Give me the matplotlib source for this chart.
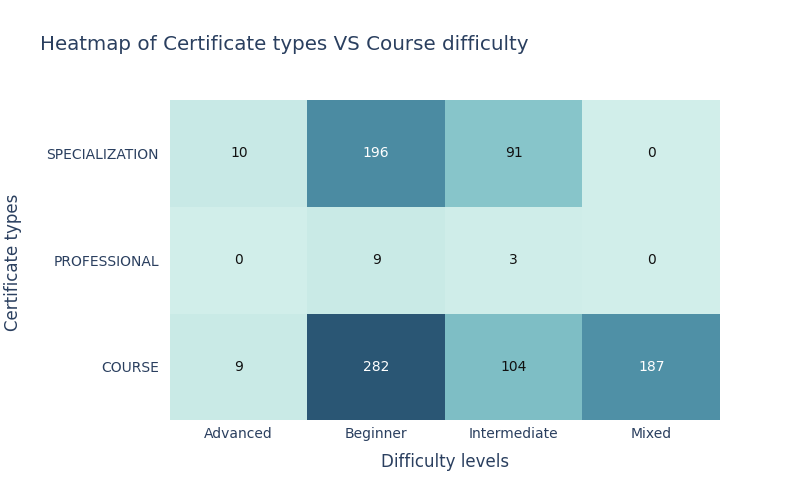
import numpy as np
import matplotlib.pyplot as plt
from matplotlib.colors import LinearSegmentedColormap

# Données du graphique
niveaux = ['Advanced', 'Beginner', 'Intermediate', 'Mixed']
certificats = ['COURSE', 'PROFESSIONAL', 'SPECIALIZATION']
course = [9, 282, 104, 187]
professional = [0, 9, 3, 0]
specialization = [10, 196, 91, 0]

# Echelle "Teal" de plotly
teal = ['#d1eeea', '#a8dbd9', '#85c4c9', '#68abb8', '#4f90a6', '#3b738f', '#2a5674']
cmap = LinearSegmentedColormap.from_list('teal', teal)

z = np.array([course, professional, specialization])
txt_color = '#2a3f5f'

fig = plt.figure(figsize=(8, 5), dpi=100)
ax = fig.add_axes([170 / 800, 1 - 420 / 500, 550 / 800, 320 / 500])
ax.imshow(z, cmap=cmap, aspect='auto', origin='lower', vmin=z.min(), vmax=z.max())

# Valeurs dans les cellules (blanc sur fond sombre)
for i in range(z.shape[0]):
    for j in range(z.shape[1]):
        r, g, b, _ = cmap((z[i, j] - z.min()) / (z.max() - z.min()))
        lum = 0.299 * r + 0.587 * g + 0.114 * b
        c = 'white' if lum < 0.55 else '#111111'
        ax.text(j, i, str(z[i, j]), ha='center', va='center', fontsize=10, color=c)

ax.set_xticks(range(len(niveaux)))
ax.set_xticklabels(niveaux)
ax.set_yticks(range(len(certificats)))
ax.set_yticklabels(certificats)
ax.tick_params(length=0, labelsize=10, colors=txt_color)
ax.tick_params(axis='x', pad=5)
ax.tick_params(axis='y', pad=8)
for s in ax.spines.values():
    s.set_visible(False)

ax.set_xlabel('Difficulty levels', fontsize=12, color=txt_color, labelpad=9)
fig.text(13 / 800, 1 - 262 / 500, 'Certificate types', rotation=90, fontsize=12,
         color=txt_color, ha='center', va='center')
fig.text(40 / 800, 1 - 44 / 500, 'Heatmap of Certificate types VS Course difficulty',
         fontsize=14.3, color=txt_color, ha='left', va='center')

fig.savefig('out.png', dpi=100, facecolor='white')
